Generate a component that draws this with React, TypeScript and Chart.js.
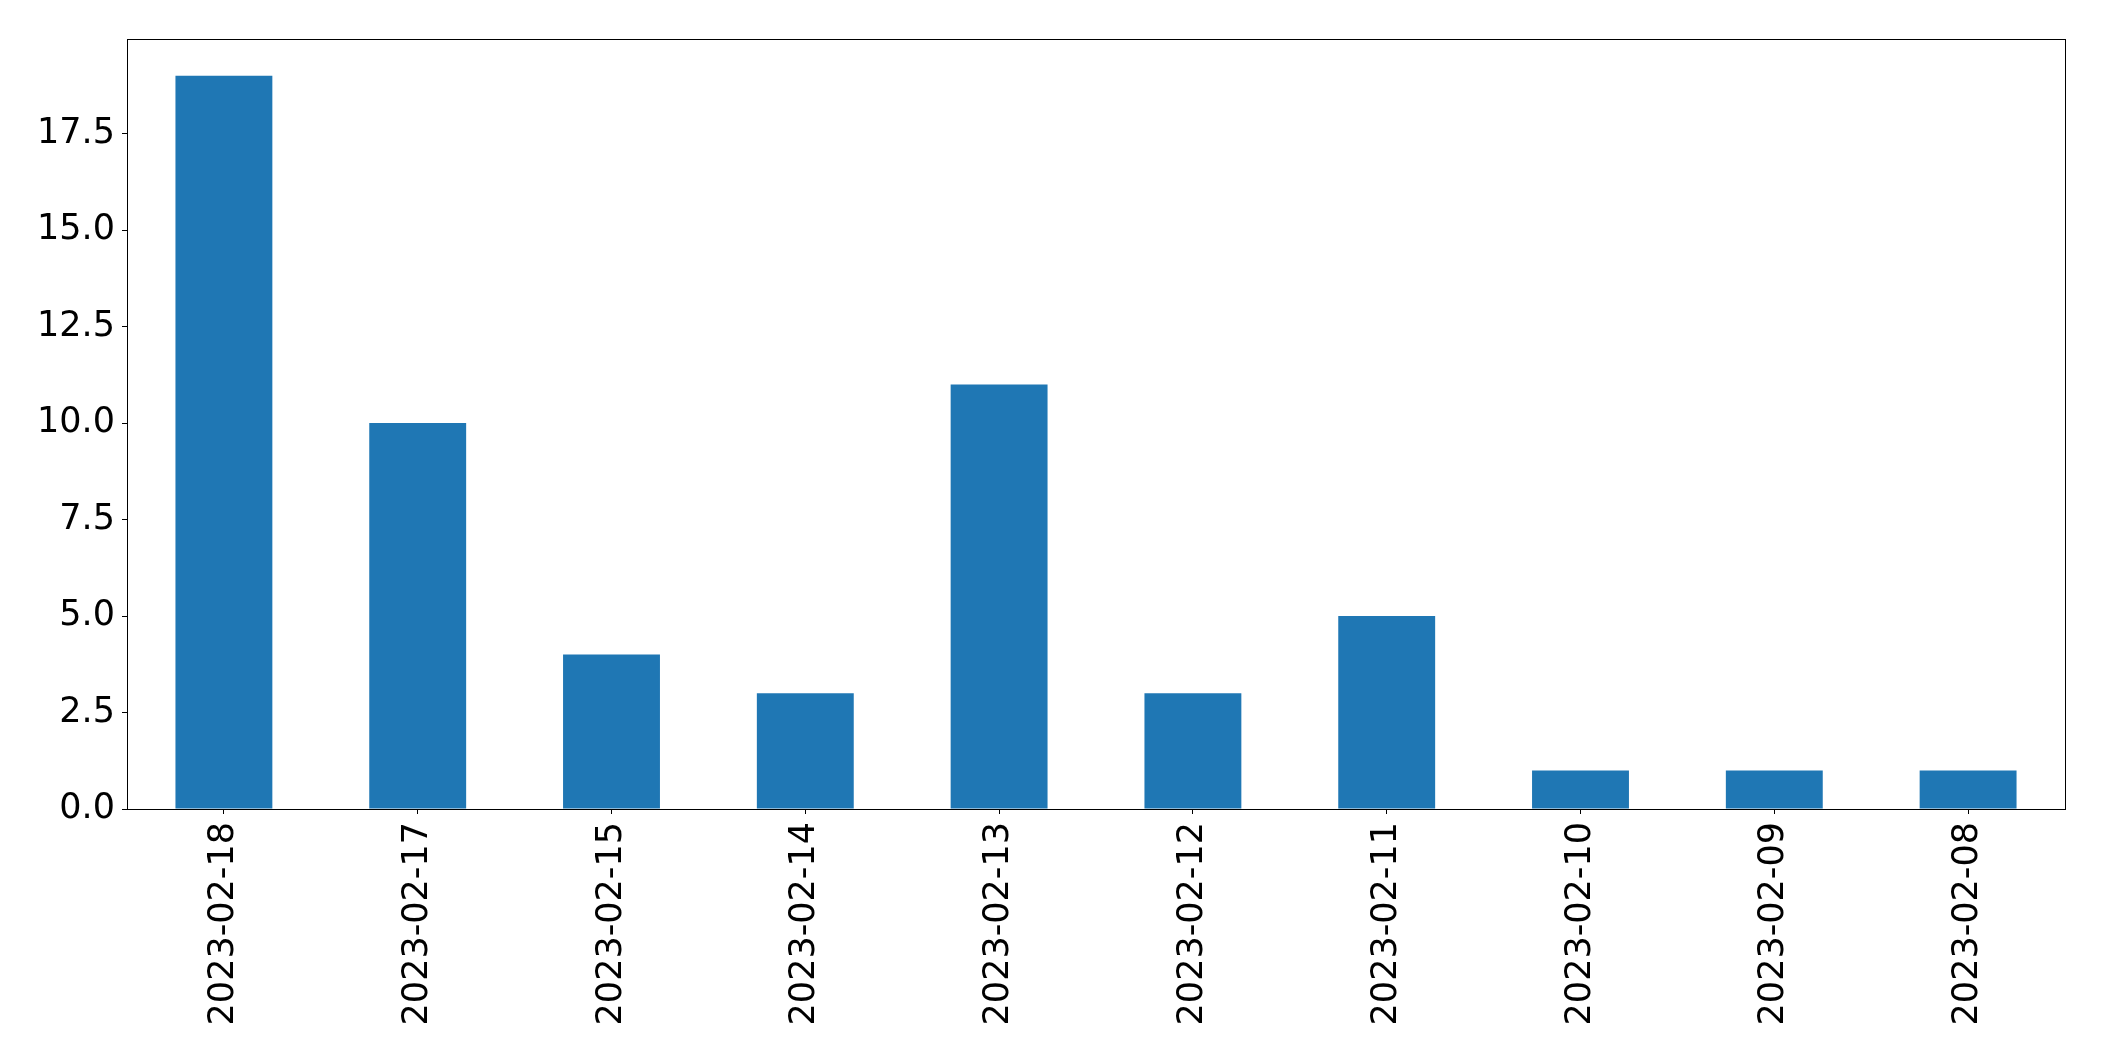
import React, { useEffect, useRef } from "react";
import { Chart, registerables } from "chart.js";

Chart.register(...registerables);

const categories = [
  "2023-02-18",
  "2023-02-17",
  "2023-02-15",
  "2023-02-14",
  "2023-02-13",
  "2023-02-12",
  "2023-02-11",
  "2023-02-10",
  "2023-02-09",
  "2023-02-08",
];
const counts = [19, 10, 4, 3, 11, 3, 5, 1, 1, 1];
const yTicks = [0, 2.5, 5, 7.5, 10, 12.5, 15, 17.5];
const yMax = 19.95;

const framePlugin = {
  id: "frame",
  afterDraw(chart: any) {
    const { ctx, chartArea } = chart;
    ctx.save();
    ctx.strokeStyle = "#000";
    ctx.lineWidth = 1;
    ctx.strokeRect(
      Math.round(chartArea.left) + 0.5,
      Math.round(chartArea.top) + 0.5,
      Math.round(chartArea.right - chartArea.left),
      Math.round(chartArea.bottom - chartArea.top)
    );
    ctx.restore();
  },
};

export default function App() {
  const ref = useRef<HTMLCanvasElement | null>(null);
  useEffect(() => {
    document.body.style.margin = "0";
    const font = { family: "DejaVu Sans", size: 35 };
    const chart = new Chart(ref.current as HTMLCanvasElement, {
      type: "bar",
      data: {
        labels: categories,
        datasets: [
          {
            data: counts,
            backgroundColor: "#1f77b4",
            barPercentage: 0.5,
            categoryPercentage: 1.0,
          },
        ],
      },
      plugins: [framePlugin],
      options: {
        animation: false,
        responsive: false,
        maintainAspectRatio: false,
        layout: { padding: { top: 39, right: 39, left: 0, bottom: 0 } },
        plugins: { legend: { display: false }, tooltip: { enabled: false } },
        scales: {
          x: {
            offset: true,
            grid: {
              offset: false,
              drawOnChartArea: false,
              tickLength: 5,
              color: "#000",
              tickColor: "#000",
            },
            border: { color: "#000", width: 1 },
            ticks: {
              font,
              color: "#000",
              minRotation: 90,
              maxRotation: 90,
              autoSkip: false,
              padding: 8,
            },
            afterFit(scale: any) {
              scale.height = 252;
            },
          },
          y: {
            min: 0,
            max: yMax,
            grid: {
              drawOnChartArea: false,
              tickLength: 5,
              color: "#000",
              tickColor: "#000",
            },
            border: { color: "#000", width: 1 },
            ticks: {
              font,
              color: "#000",
              padding: 7,
              callback: (v: any) => Number(v).toFixed(1),
            },
            afterBuildTicks(scale: any) {
              scale.ticks = yTicks.map((v) => ({ value: v }));
            },
            afterFit(scale: any) {
              scale.width = 127;
            },
          },
        },
      },
    });
    return () => chart.destroy();
  }, []);
  return (
    <div style={{ width: 2104, height: 1061 }}>
      <canvas ref={ref} width={2104} height={1061} style={{ display: "block" }} />
    </div>
  );
}
